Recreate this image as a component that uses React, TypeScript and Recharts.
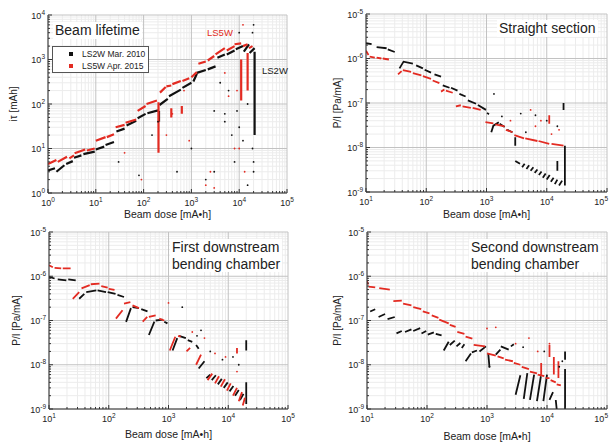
import { ComposedChart, Line, Scatter, XAxis, YAxis, CartesianGrid } from "recharts";

type Seg = [number, number][];

const RED = "#e32b22";
const BLACK = "#111111";
const FONT = '"Liberation Sans", Arial, sans-serif';

// ---- tick labels (decades) ----
const xMajorLifetime = [1, 10, 100, 1000, 10000, 100000];
const yMajorLifetime = [1, 10, 100, 1000, 10000];
const xMajorPressure = [10, 100, 1000, 10000, 100000];
const yMajorPressure = [1e-9, 1e-8, 1e-7, 1e-6, 1e-5];

// ---- Beam lifetime ----
const p1Black: Seg[] = [
  [[1.0, 3.2], [1.4, 3.6]], [[1.5, 3.0], [2.2, 4.2]], [[2.4, 4.5], [3.3, 5.2]],
  [[3.5, 6.2], [5.0, 7.0]], [[5.5, 7.5], [9.5, 8.5]], [[10, 9.5], [15, 11]],
  [[16, 12], [24, 14]], [[27, 24], [40, 28]], [[44, 33], [70, 42]],
  [[75, 48], [110, 60]], [[120, 62], [200, 72]], [[210, 70], [210, 40]],
  [[215, 95], [320, 130]], [[340, 150], [600, 210]], [[650, 230], [1000, 300]],
  [[1100, 320], [1300, 480]], [[1300, 500], [2000, 580]], [[2200, 600], [3200, 700]],
  [[3500, 1100], [5000, 1300]], [[5500, 1300], [8000, 1600]], [[8500, 1700], [12000, 2000]],
  [[12500, 1500], [16000, 2200]], [[16500, 1400], [21000, 1800]], [[21000, 1500], [21000, 20]],
];
const p1Red: Seg[] = [
  [[1.0, 4.5], [1.5, 5.5]], [[1.6, 5.0], [2.5, 6.5]], [[2.8, 6.0], [3.5, 7.0]],
  [[3.6, 7.8], [6.0, 9.5]], [[6.5, 9.0], [9.5, 10]], [[10, 15], [16, 18]],
  [[17, 18], [24, 21]], [[26, 30], [40, 34]], [[42, 38], [70, 45]],
  [[75, 70], [110, 90]], [[115, 100], [190, 120]], [[205, 110], [205, 8]],
  [[220, 180], [290, 240]], [[300, 250], [380, 260]], [[380, 80], [380, 50]],
  [[400, 280], [600, 330]], [[630, 90], [630, 60]], [[650, 330], [900, 380]],
  [[1000, 400], [1300, 520]], [[1400, 800], [2000, 900]], [[2200, 950], [3000, 1200]],
  [[3200, 1300], [5000, 1800]], [[5500, 1600], [8000, 2000]], [[8000, 2200], [11000, 2300]],
  [[11000, 1000], [11000, 120]], [[12000, 2000], [15000, 2200]], [[15000, 1400], [15000, 200]],
  [[16000, 1800], [19000, 2000]],
];
const p1BlackDots: [number, number][] = [
  [30, 5], [80, 2.5], [150, 20], [200, 40], [500, 3], [1000, 10], [2000, 2], [3000, 3],
  [3000, 70], [5000, 60], [5000, 40], [7000, 20], [8000, 5], [9000, 70], [10000, 30],
  [12000, 15], [15000, 100], [15000, 1.5], [19000, 10], [20000, 5], [20000, 3],
  [10000, 4000], [19000, 4000], [20000, 6000], [4000, 300], [6000, 200],
];
const p1RedDots: [number, number][] = [
  [40, 8], [90, 2], [300, 20], [900, 15], [2000, 1.5], [2500, 3], [3000, 1.3], [5000, 500],
  [8000, 10], [10000, 10], [12000, 6000], [13000, 3], [6000, 150], [9000, 200], [700, 200], [400, 60],
];

// ---- Straight section ----
const p2Black: Seg[] = [
  [[10, 2.2e-6], [12.4, 2.1e-6]], [[15, 1.8e-6], [22, 1.7e-6]], [[23, 1.6e-6], [30, 1.4e-6]],
  [[36, 6e-7], [42, 8.5e-7], [60, 7.7e-7]], [[68, 7e-7], [88, 6e-7]], [[94, 5.6e-7], [120, 4.8e-7]],
  [[137, 4.4e-7], [176, 3.9e-7]], [[188, 2.5e-7], [243, 2.2e-7]], [[258, 2.2e-7], [330, 1.9e-7]],
  [[355, 1.6e-7], [450, 1.4e-7]], [[490, 1.15e-7], [670, 9.6e-8]], [[720, 9e-8], [980, 7e-8]],
  [[1020, 6e-8], [1100, 5.6e-8]], [[1200, 2.2e-8], [1300, 3.1e-8], [1600, 3.7e-8]],
  [[1650, 3.4e-8], [2000, 2.9e-8]], [[2200, 2.5e-8], [2700, 2.2e-8]], [[3000, 1.7e-8], [3000, 1.1e-8]],
  [[3000, 5e-9], [3600, 4.3e-9]], [[3900, 3.6e-9], [4300, 4.3e-9]], [[4600, 3.3e-9], [5100, 4e-9]],
  [[5400, 3e-9], [6000, 3.6e-9]], [[6300, 2.7e-9], [7000, 3.2e-9]], [[7400, 2.4e-9], [8200, 2.9e-9]],
  [[8600, 2.1e-9], [9600, 2.6e-9]], [[10000, 1.9e-9], [11200, 2.4e-9]], [[11700, 1.7e-9], [13000, 2.1e-9]],
  [[13600, 1.5e-9], [15000, 1.9e-9]], [[16000, 1.4e-9], [18000, 1.8e-9]], [[19000, 1e-7], [19000, 7e-8]],
  [[20000, 1.1e-8], [20000, 1.4e-9]], [[15000, 5e-9], [15000, 3e-9]],
];
const p2Red: Seg[] = [
  [[10, 1.5e-6], [11, 1.2e-6]], [[11.5, 1.1e-6], [14, 1.05e-6]], [[15, 1.05e-6], [18, 1e-6]],
  [[19, 1e-6], [24, 9.5e-7]], [[34, 4.4e-7], [39, 5.2e-7]], [[41, 5.5e-7], [56, 5e-7]],
  [[60, 4.7e-7], [83, 4.2e-7]], [[88, 4e-7], [120, 3.5e-7]], [[128, 3.2e-7], [165, 2.8e-7]],
  [[176, 1.8e-7], [200, 2e-7]], [[212, 1.9e-7], [275, 1.7e-7]], [[310, 8.4e-8], [375, 8.9e-8]],
  [[400, 8.4e-8], [550, 7.8e-8]], [[590, 7.8e-8], [800, 7e-8]], [[960, 3.7e-8], [1300, 3.5e-8]],
  [[1400, 3.3e-8], [2000, 3e-8]], [[2100, 2.5e-8], [2700, 2.2e-8]], [[2900, 1.9e-8], [4200, 1.6e-8]],
  [[4400, 1.6e-8], [7000, 1.4e-8]], [[7300, 1.4e-8], [11000, 1.2e-8]], [[12000, 1.2e-8], [19000, 1.1e-8]],
  [[11000, 5.3e-8], [11000, 3.4e-8]],
];
const p2BlackDots: [number, number][] = [
  [1330, 1.6e-7], [3700, 5.8e-8], [6500, 5.3e-8], [15000, 3e-8], [4500, 2.2e-8], [10000, 4e-8], [1800, 5e-8],
];
const p2RedDots: [number, number][] = [
  [5400, 7e-8], [6500, 3e-8], [8000, 4e-8], [12000, 2e-8], [2500, 4e-8], [16000, 2.5e-8],
];

// ---- First downstream bending chamber ----
const p3Red: Seg[] = [
  [[10, 1.77e-6], [11.6, 1.6e-6]], [[12.4, 1.55e-6], [16, 1.5e-6]], [[17, 1.5e-6], [23, 1.5e-6]],
  [[25, 3.1e-7], [32, 4.4e-7]], [[35, 5.3e-7], [48, 6.3e-7]], [[50, 6.6e-7], [70, 6.8e-7]],
  [[75, 6e-7], [96, 5.5e-7]], [[100, 5.2e-7], [125, 4.9e-7]], [[132, 1.1e-7], [170, 1.7e-7]],
  [[180, 2.4e-7], [230, 2.6e-7]], [[250, 2.2e-7], [320, 1.9e-7]], [[370, 9.4e-8], [440, 1.2e-7]],
  [[470, 1.2e-7], [610, 1.3e-7]], [[700, 1.1e-7], [850, 1e-7]], [[1050, 2.1e-8], [1300, 4.3e-8]],
  [[1450, 4.5e-8], [1600, 4.3e-8]], [[2000, 2e-8], [2300, 2.4e-8]], [[2900, 1e-8], [3500, 1.7e-8]],
  [[4500, 4.5e-9], [5400, 6.3e-9]], [[6000, 3.8e-9], [7000, 5.5e-9]], [[7500, 3.2e-9], [8800, 4.7e-9]],
  [[9500, 2.6e-9], [11000, 3.8e-9]], [[12000, 2e-9], [14000, 3e-9]], [[15000, 1.5e-9], [17000, 2.4e-9]],
  [[17500, 1.2e-9], [19000, 1.8e-9]], [[14000, 2.4e-8], [14000, 1.8e-8]],
];
const p3Black: Seg[] = [
  [[10, 9.7e-7], [12.4, 8.9e-7]], [[14, 8.5e-7], [19.5, 8.1e-7]], [[21, 8.5e-7], [28, 8.1e-7]],
  [[32, 3.1e-7], [39, 4e-7]], [[42, 4.4e-7], [62, 4.8e-7]], [[65, 4.8e-7], [90, 4.4e-7]],
  [[96, 4.4e-7], [130, 4e-7]], [[140, 3.8e-7], [180, 3.4e-7]], [[195, 9.3e-8], [235, 1.9e-7]],
  [[250, 2e-7], [320, 1.9e-7]], [[350, 1.8e-7], [445, 1.6e-7]], [[470, 4.7e-8], [580, 9.4e-8]],
  [[610, 1e-7], [800, 1.05e-7]], [[850, 9.4e-8], [960, 8.6e-8]], [[1170, 2.1e-8], [1400, 4e-8]],
  [[1500, 4.5e-8], [1950, 4e-8]], [[2100, 3.6e-8], [2500, 3.3e-8]], [[2900, 2.8e-8], [3200, 2.3e-8]],
  [[3200, 8.2e-9], [4000, 1.2e-8]], [[4300, 5e-9], [5000, 6e-9]], [[5300, 4.5e-9], [6200, 5.8e-9]],
  [[6700, 3.6e-9], [7800, 4.8e-9]], [[8400, 3e-9], [9800, 4e-9]], [[10500, 2.5e-9], [12200, 3.3e-9]],
  [[13000, 2e-9], [15000, 2.7e-9]], [[15700, 1.6e-9], [18000, 2.2e-9]], [[20000, 3.6e-8], [20000, 2.1e-8]],
  [[20000, 4e-9], [20000, 1.3e-9]],
];
const p3BlackDots: [number, number][] = [
  [1700, 2e-7], [3000, 4.5e-8], [5000, 2e-8], [8000, 1.3e-8], [12000, 1.5e-8], [15000, 1e-8], [3500, 6e-8],
];
const p3RedDots: [number, number][] = [
  [1000, 2.5e-7], [2500, 5.5e-8], [6000, 1.8e-8], [9000, 1.5e-8], [14000, 7e-9], [4000, 4e-8],
];

// ---- Second downstream bending chamber ----
const p4Red: Seg[] = [
  [[10, 7.7e-7], [10.5, 6.5e-7]], [[10.6, 5.8e-7], [13.7, 5.6e-7]], [[16, 5.4e-7], [24, 5e-7]],
  [[27.5, 2.75e-7], [38, 2.8e-7]], [[40, 2.4e-7], [55, 2.2e-7]], [[59, 2e-7], [80, 1.8e-7]],
  [[85, 1.6e-7], [110, 1.45e-7]], [[120, 1.3e-7], [155, 1.15e-7]], [[160, 1.05e-7], [230, 8.6e-8]],
  [[240, 8e-8], [300, 7.2e-8]], [[320, 5.5e-8], [420, 5e-8]], [[440, 4.3e-8], [570, 3.9e-8]],
  [[600, 2.8e-8], [930, 2.6e-8]], [[1000, 1.8e-8], [1400, 1.6e-8]], [[1500, 1.55e-8], [1900, 1.4e-8]],
  [[2000, 1.3e-8], [2700, 1.2e-8]], [[2800, 1.1e-8], [3600, 1e-8]], [[3800, 9e-9], [5000, 8e-9]],
  [[5200, 7e-9], [6800, 6.4e-9]], [[7000, 6e-9], [9000, 5.5e-9]], [[9500, 5e-9], [11000, 5e-9]],
  [[11500, 4.5e-9], [14000, 4e-9]], [[14500, 3.6e-9], [17000, 3.4e-9]], [[11000, 2.8e-8], [11000, 1.5e-8]],
  [[13000, 1.5e-8], [13000, 6e-9]], [[15500, 1.2e-8], [15500, 5e-9]], [[8000, 1.1e-8], [8000, 6e-9]],
];
const p4Black: Seg[] = [
  [[11.3, 1.6e-7], [13.7, 1.8e-7]], [[15.6, 1.2e-7], [20, 1.4e-7]], [[22, 1.07e-7], [29, 1.2e-7]],
  [[31, 5.1e-8], [38, 5.8e-8]], [[43, 5.5e-8], [55, 6.3e-8]], [[59, 5.8e-8], [77, 6.7e-8]],
  [[81, 5.1e-8], [97, 5.8e-8]], [[103, 4.8e-8], [130, 5.4e-8]], [[140, 5e-8], [175, 4.6e-8]],
  [[190, 2.1e-8], [230, 3.3e-8]], [[240, 2.8e-8], [290, 3.5e-8]], [[310, 2.6e-8], [360, 3.1e-8]],
  [[380, 2.4e-8], [420, 2.9e-8]], [[440, 1.2e-8], [540, 1.8e-8]], [[560, 1.9e-8], [680, 2.1e-8]],
  [[750, 2e-8], [960, 2.6e-8]], [[1050, 1.8e-8], [1100, 8.7e-9]], [[1400, 1.7e-8], [1670, 2.2e-8]],
  [[1700, 2.6e-8], [2300, 2.2e-8]], [[2500, 2.6e-8], [2800, 2.9e-8]], [[3000, 2.1e-9], [3600, 5.8e-9]],
  [[4100, 1.7e-9], [4700, 6.5e-9]], [[5200, 1.6e-9], [6100, 6e-9]], [[6800, 1.5e-9], [7900, 5.5e-9]],
  [[8700, 1.5e-9], [10000, 6e-9]], [[11000, 1.6e-9], [12600, 2.4e-9]], [[14000, 1.6e-9], [14500, 1e-9]],
  [[20000, 2e-8], [20000, 1.3e-8]], [[20000, 8e-9], [20000, 1e-9]],
];
const p4BlackDots: [number, number][] = [
  [1100, 9e-9], [4000, 2.5e-8], [9000, 2e-8], [16000, 9e-9], [18000, 1.2e-8],
];
const p4RedDots: [number, number][] = [
  [1000, 6.6e-8], [1400, 7e-8], [3000, 3e-8], [5000, 4e-8], [7000, 2e-8], [11000, 3e-8],
];

// segments -> one line with null gaps
const toLine = (segs: Seg[]) =>
  segs.flatMap((s) => [
    ...s.map(([x, y]) => ({ x, y: y as number | null })),
    { x: s[s.length - 1][0], y: null },
  ]);
const toDots = (pts: [number, number][]) => pts.map(([x, y]) => ({ x, y }));

// decades plus the 2..9 values in between
function withMinors(major: number[]) {
  const out: number[] = [];
  for (let i = 0; i < major.length - 1; i++)
    for (let m = 1; m < 10; m++) out.push(m * major[i]);
  out.push(major[major.length - 1]);
  return out;
}
const minorOnly = (major: number[]) => withMinors(major).filter((v) => !major.includes(v));

function LogTick(props: any) {
  const { x, y, payload, side, maxX } = props;
  const v = payload.value as number;
  const exp = Math.round(Math.log10(v));
  const major = Math.abs(Math.log10(v) - exp) < 1e-6;
  const len = major ? 4 : 2;
  const d =
    side === "bottom" ? [0, -len] : side === "top" ? [0, len] : side === "left" ? [len, 0] : [-len, 0];
  const lbl = (
    <>
      10<tspan dy={-4} fontSize={6.5}>{exp}</tspan>
    </>
  );
  // keep the last label inside the picture
  const atEdge = maxX !== undefined && x + 8 > maxX;
  return (
    <g>
      <line x1={x} y1={y} x2={x + d[0]} y2={y + d[1]} stroke="#333" strokeWidth={1} />
      {major && side === "bottom" && (
        <text x={atEdge ? maxX : x} y={y + 13} textAnchor={atEdge ? "end" : "middle"} fontSize={9} fill="#222">{lbl}</text>
      )}
      {major && side === "left" && (
        <text x={x - 3} y={y + 3.5} textAnchor="end" fontSize={9} fill="#222">{lbl}</text>
      )}
    </g>
  );
}

const smallDot = (p: any) => <circle cx={p.cx} cy={p.cy} r={0.9} fill={p.fill} />;

type PanelProps = {
  left: number; top: number; width: number; height: number;
  margin: { top: number; right: number; bottom: number; left: number };
  yw: number; xh: number;
  xMajor: number[]; yMajor: number[];
  black: Seg[]; red: Seg[]; blackDots: [number, number][]; redDots: [number, number][];
  yTitle: string; yTitleOffset: number; xTitleOffset: number; lineW: number;
};

function Panel(p: PanelProps) {
  const xDomain = [p.xMajor[0], p.xMajor[p.xMajor.length - 1]];
  const yDomain = [p.yMajor[0], p.yMajor[p.yMajor.length - 1]];
  const xTicks = withMinors(p.xMajor);
  const yTicks = withMinors(p.yMajor);
  return (
    <div style={{ position: "absolute", left: p.left, top: p.top, width: p.width, height: p.height, background: "#fff", overflow: "hidden" }}>
      <ComposedChart width={p.width} height={p.height} margin={p.margin}>
        <CartesianGrid stroke="#ececec" verticalValues={minorOnly(p.xMajor)} horizontalValues={minorOnly(p.yMajor)} />
        <CartesianGrid stroke="#c2c2c2" verticalValues={p.xMajor} horizontalValues={p.yMajor} />
        <XAxis
          dataKey="x" type="number" scale="log" domain={xDomain} allowDataOverflow
          ticks={xTicks} interval={0} tickSize={0} tickMargin={0} tickLine={false}
          tick={(t: any) => <LogTick {...t} side="bottom" maxX={p.width - 1} />}
          axisLine={{ stroke: "#333" }} height={p.xh}
          label={{ value: "Beam dose [mA•h]", position: "insideBottom", offset: p.xTitleOffset, fontSize: 10.5, fill: "#222" }}
        />
        <XAxis
          xAxisId="t" orientation="top" dataKey="x" type="number" scale="log" domain={xDomain} allowDataOverflow
          ticks={xTicks} interval={0} tickSize={0} tickMargin={0} tickLine={false}
          tick={(t: any) => <LogTick {...t} side="top" />}
          axisLine={{ stroke: "#333" }} height={0}
        />
        <YAxis
          dataKey="y" type="number" scale="log" domain={yDomain} allowDataOverflow
          ticks={yTicks} interval={0} tickSize={0} tickMargin={0} tickLine={false}
          tick={(t: any) => <LogTick {...t} side="left" />}
          axisLine={{ stroke: "#333" }} width={p.yw}
          label={{ value: p.yTitle, angle: -90, position: "insideLeft", offset: p.yTitleOffset, fontSize: 10, fill: "#222", style: { textAnchor: "middle" } }}
        />
        <YAxis
          yAxisId="r" orientation="right" dataKey="y" type="number" scale="log" domain={yDomain} allowDataOverflow
          ticks={yTicks} interval={0} tickSize={0} tickMargin={0} tickLine={false}
          tick={(t: any) => <LogTick {...t} side="right" />}
          axisLine={{ stroke: "#333" }} width={0}
        />
        <Scatter data={toDots(p.redDots)} fill={RED} shape={smallDot} isAnimationActive={false} />
        <Scatter data={toDots(p.blackDots)} fill={BLACK} shape={smallDot} isAnimationActive={false} />
        <Line data={toLine(p.black)} dataKey="y" stroke={BLACK} strokeWidth={p.lineW} dot={false} activeDot={false} connectNulls={false} isAnimationActive={false} />
        <Line data={toLine(p.red)} dataKey="y" stroke={RED} strokeWidth={p.lineW} dot={false} activeDot={false} connectNulls={false} isAnimationActive={false} />
      </ComposedChart>
    </div>
  );
}

const titleStyle = (left: number, top: number): React.CSSProperties => ({
  position: "absolute", left, top, fontSize: 14, lineHeight: "16.5px", color: "#222",
  background: "#fff", padding: "0 2px", whiteSpace: "nowrap",
});

export default function App() {
  return (
    <div style={{ position: "absolute", left: 0, top: 0, width: 609, height: 445, background: "#fff", overflow: "hidden", fontFamily: FONT }}>
      <Panel
        left={0} top={0} width={305} height={222}
        margin={{ top: 15, right: 18, bottom: 4, left: 0 }} yw={48} xh={25}
        xMajor={xMajorLifetime} yMajor={yMajorLifetime}
        black={p1Black} red={p1Red} blackDots={p1BlackDots} redDots={p1RedDots}
        yTitle="iτ [mAh]" yTitleOffset={13} xTitleOffset={0} lineW={2.2}
      />
      <Panel
        left={305} top={0} width={304} height={222}
        margin={{ top: 14, right: 2, bottom: 4, left: 0 }} yw={61} xh={26}
        xMajor={xMajorPressure} yMajor={yMajorPressure}
        black={p2Black} red={p2Red} blackDots={p2BlackDots} redDots={p2RedDots}
        yTitle="P/I [Pa/mA]" yTitleOffset={32} xTitleOffset={0} lineW={1.8}
      />
      <Panel
        left={0} top={222} width={305} height={223}
        margin={{ top: 10, right: 17, bottom: 0, left: 0 }} yw={49} xh={36}
        xMajor={xMajorPressure} yMajor={yMajorPressure}
        black={p3Black} red={p3Red} blackDots={p3BlackDots} redDots={p3RedDots}
        yTitle="P/I [Pa/mA]" yTitleOffset={16} xTitleOffset={7} lineW={1.8}
      />
      <Panel
        left={305} top={222} width={304} height={223}
        margin={{ top: 10, right: 2, bottom: 0, left: 0 }} yw={62} xh={36}
        xMajor={xMajorPressure} yMajor={yMajorPressure}
        black={p4Black} red={p4Red} blackDots={p4BlackDots} redDots={p4RedDots}
        yTitle="P/I [Pa/mA]" yTitleOffset={32} xTitleOffset={5} lineW={1.8}
      />

      <div style={titleStyle(53, 22)}>Beam lifetime</div>
      <div style={titleStyle(497, 20)}>Straight section</div>
      <div style={titleStyle(170, 239)}>First downstream<br />bending chamber</div>
      <div style={titleStyle(469, 239)}>Second downstream<br />bending chamber</div>

      <div style={{ position: "absolute", left: 52, top: 46, width: 95, height: 25, border: "1px solid #555", background: "#fff", fontSize: 8.5, lineHeight: "12px", color: "#222" }}>
        <div style={{ position: "relative", paddingLeft: 29, marginTop: 1 }}>
          <span style={{ position: "absolute", left: 16, top: 4, width: 4, height: 4, background: BLACK }} />
          LS2W Mar. 2010
        </div>
        <div style={{ position: "relative", paddingLeft: 29 }}>
          <span style={{ position: "absolute", left: 16, top: 4, width: 4, height: 4, background: RED }} />
          LS5W Apr. 2015
        </div>
      </div>
      <div style={{ position: "absolute", left: 207, top: 27, fontSize: 9.5, color: RED }}>LS5W</div>
      <div style={{ position: "absolute", left: 262, top: 65, fontSize: 9.5, color: "#222" }}>LS2W</div>
    </div>
  );
}
